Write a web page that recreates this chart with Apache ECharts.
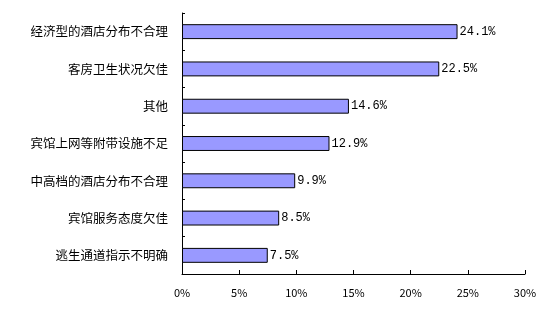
<!DOCTYPE html>
<html><head><meta charset="utf-8">
<script src="https://cdn.jsdelivr.net/npm/echarts@6/dist/echarts.min.js"></script>
<style>html,body{margin:0;padding:0;background:#fff}#c{width:554px;height:315px}</style>
</head><body><div id="c"></div>
<script>
const categories = ['经济型的酒店分布不合理','客房卫生状况欠佳','其他','宾馆上网等附带设施不足','中高档的酒店分布不合理','宾馆服务态度欠佳','逃生通道指示不明确'];
const values = [24.1, 22.5, 14.6, 12.9, 9.9, 8.5, 7.5];
const xTicks = [0, 5, 10, 15, 20, 25, 30];

const chart = echarts.init(document.getElementById('c'), null, {renderer: 'canvas'});
chart.setOption({
  animation: false,
  backgroundColor: '#fff',
  grid: {left: 182, right: 29, top: 13, bottom: 41, containLabel: false},
  xAxis: {
    type: 'value', min: xTicks[0], max: xTicks[xTicks.length - 1], interval: 5,
    axisLine: {show: true, lineStyle: {color: '#000', width: 1}},
    axisTick: {show: true, inside: true, length: 4, lineStyle: {color: '#000'}},
    splitLine: {show: false},
    axisLabel: {margin: 13, color: '#000', fontSize: 11, fontFamily: 'Noto Sans CJK SC', formatter: v => v + '%'}
  },
  yAxis: {
    type: 'category', data: categories, inverse: true,
    axisLine: {show: true, lineStyle: {color: '#000', width: 1}},
    axisTick: {show: true, inside: true, length: 3, lineStyle: {color: '#000'}},
    axisLabel: {margin: 14, color: '#000', fontSize: 12.5, fontFamily: 'Noto Sans CJK SC'}
  },
  series: [{
    type: 'bar', data: values, barCategoryGap: '60%',
    itemStyle: {color: '#9999FF', borderColor: '#000', borderWidth: 1},
    label: {show: true, position: 'right', distance: 2, color: '#000', fontSize: 12,
      fontFamily: 'Liberation Mono', formatter: p => p.value.toFixed(1) + '%'}
  }]
});
</script></body></html>
